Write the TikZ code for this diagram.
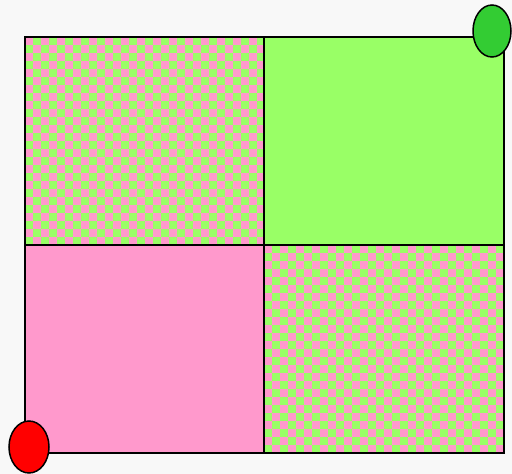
\documentclass[tikz,border=0pt]{standalone}
\definecolor{bg}{HTML}{F8F8F8}
\definecolor{lgreen}{HTML}{99FF66}
\definecolor{lpink}{HTML}{FF99CC}
\definecolor{dgreen}{HTML}{33CC33}
\begin{document}
\begin{tikzpicture}[x=1pt,y=-1pt,
  edge/.style={draw=black,line width=1.5pt},
  dot/.style={draw=black,line width=1.5pt}]
\fill[bg] (0,0) rectangle (512,474);
\useasboundingbox (0,0) rectangle (512,474);
% top-right plain green, bottom-left plain pink
\fill[lgreen] (264,37) rectangle (504,245);
\fill[lpink] (25,245) rectangle (264,453);
% checkered quadrants
\begin{scope}
\clip (25,37) rectangle (264,245);
\fill[lpink] (25,37) rectangle (264,245);
\foreach \i in {0,...,29}{
  \foreach \j in {0,...,25}{
    \pgfmathtruncatemacro\p{mod(\i+\j,2)}
    \ifnum\p=1 \fill[lgreen] (25+8*\i,37+8*\j) rectangle ++(8,8);\fi
  }}
\end{scope}
\begin{scope}
\clip (264,245) rectangle (504,453);
\fill[lpink] (264,245) rectangle (504,453);
\foreach \i in {0,...,29}{
  \foreach \j in {0,...,25}{
    \pgfmathtruncatemacro\p{mod(\i+\j,2)}
    \ifnum\p=1 \fill[lgreen] (264+8*\i,245+8*\j) rectangle ++(8,8);\fi
  }}
\end{scope}
\draw[edge] (25,37) rectangle (504,453);
\draw[edge] (264,37) -- (264,453);
\draw[edge] (25,245) -- (504,245);
\draw[dot,fill=dgreen] (492,31) ellipse [x radius=19,y radius=26];
\draw[dot,fill=red] (29,447) ellipse [x radius=20,y radius=26];
\end{tikzpicture}
\end{document}
